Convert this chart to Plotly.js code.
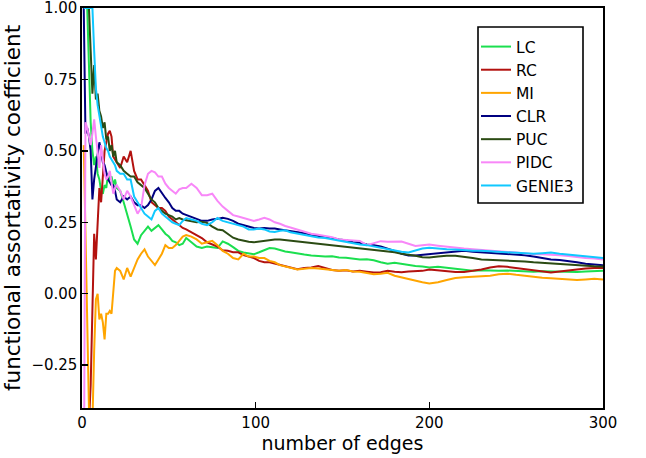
<!DOCTYPE html>
<html>
<head>
<meta charset="utf-8">
<script src="https://cdn.plot.ly/plotly-3.0.1.min.js"></script>
<style>html,body{margin:0;padding:0;background:#fff;}#chart{width:646px;height:458px;}</style>
</head>
<body>
<div id="chart"></div>
<script>
// number of edges (sample positions)
var edges = [1,2,3,4,5,6,7,8,9,10,11,12,13,14,15,16,17,18,19,20,
  22,24,26,28,30,32,34,36,38,40,42,44,46,48,50,52,54,56,58,60,
  63,66,69,72,75,78,81,84,87,90,93,96,99,102,105,108,111,114,117,120,
  124,128,132,136,140,144,148,152,156,160,164,168,172,176,180,184,188,192,196,200,
  205,210,215,220,225,230,235,240,245,250,255,260,265,270,275,280,285,290,295,300];

var seriesNames = ["LC","RC","MI","CLR","PUC","PIDC","GENIE3"];

var LC = [1.0,1.0,1.0,0.8,0.6,0.5,0.45,0.48,0.42,0.40,0.36,0.35,0.38,0.37,0.42,0.40,0.41,0.38,0.40,0.37,
  0.36,0.32,0.28,0.235,0.19,0.175,0.205,0.22,0.235,0.22,0.23,0.24,0.225,0.21,0.20,0.185,0.18,0.17,0.175,0.195,
  0.18,0.165,0.16,0.165,0.163,0.16,0.183,0.175,0.163,0.15,0.144,0.14,0.138,0.145,0.152,0.16,0.158,0.152,0.148,0.145,
  0.14,0.137,0.134,0.132,0.13,0.131,0.127,0.126,0.124,0.12,0.121,0.117,0.11,0.105,0.108,0.104,0.10,0.097,0.095,0.092,
  0.094,0.09,0.086,0.084,0.08,0.082,0.08,0.08,0.081,0.079,0.078,0.077,0.079,0.078,0.076,0.075,0.076,0.078,0.08,0.08];

var RC = [-1.0,-1.0,-0.7,-0.45,-0.32,0.0,0.21,0.12,0.27,0.37,0.32,0.42,0.50,0.53,0.56,0.57,0.55,0.48,0.47,0.46,
  0.44,0.48,0.46,0.50,0.43,0.40,0.40,0.38,0.36,0.32,0.31,0.30,0.30,0.29,0.27,0.26,0.25,0.24,0.23,0.225,
  0.215,0.205,0.195,0.18,0.172,0.165,0.152,0.15,0.145,0.145,0.135,0.13,0.125,0.115,0.11,0.11,0.105,0.10,0.097,0.092,
  0.086,0.09,0.092,0.097,0.09,0.083,0.08,0.082,0.078,0.08,0.077,0.074,0.075,0.08,0.077,0.075,0.078,0.08,0.08,0.085,
  0.082,0.08,0.076,0.076,0.08,0.085,0.092,0.096,0.094,0.09,0.086,0.082,0.076,0.074,0.078,0.082,0.086,0.088,0.09,0.09];

var MI = [0.52,0.2,-0.15,-0.4,-0.5,-0.45,-0.2,-0.02,0.0,-0.09,-0.07,-0.1,-0.16,-0.07,-0.07,-0.06,-0.07,0.02,0.08,0.09,
  0.08,0.05,0.09,0.06,0.09,0.12,0.14,0.155,0.13,0.115,0.10,0.12,0.14,0.17,0.16,0.16,0.17,0.185,0.20,0.205,
  0.20,0.19,0.175,0.18,0.185,0.17,0.15,0.14,0.125,0.12,0.14,0.13,0.13,0.125,0.125,0.115,0.11,0.10,0.095,0.09,
  0.085,0.087,0.09,0.088,0.085,0.082,0.08,0.083,0.078,0.077,0.073,0.068,0.07,0.073,0.063,0.057,0.052,0.045,0.04,0.036,
  0.04,0.048,0.055,0.058,0.06,0.062,0.063,0.068,0.07,0.066,0.062,0.058,0.056,0.054,0.052,0.05,0.048,0.05,0.052,0.05];

var CLR = [1.0,0.56,0.58,0.55,0.50,0.33,0.40,0.45,0.50,0.53,0.50,0.46,0.45,0.42,0.40,0.39,0.38,0.38,0.36,0.33,
  0.32,0.34,0.33,0.34,0.32,0.31,0.31,0.30,0.31,0.33,0.36,0.37,0.35,0.335,0.32,0.30,0.29,0.29,0.28,0.275,
  0.27,0.26,0.255,0.255,0.26,0.262,0.266,0.262,0.255,0.245,0.24,0.235,0.23,0.228,0.23,0.228,0.228,0.225,0.222,0.22,
  0.215,0.212,0.205,0.202,0.20,0.195,0.19,0.187,0.18,0.178,0.172,0.17,0.165,0.158,0.15,0.14,0.134,0.134,0.136,0.138,
  0.14,0.144,0.146,0.15,0.147,0.145,0.143,0.142,0.138,0.138,0.135,0.13,0.125,0.12,0.118,0.115,0.11,0.105,0.102,0.10];

var PUC = [1.0,1.0,1.0,1.0,0.85,0.70,0.80,0.68,0.70,0.64,0.62,0.58,0.60,0.54,0.55,0.50,0.52,0.48,0.50,0.46,
  0.45,0.43,0.42,0.41,0.41,0.39,0.38,0.37,0.35,0.33,0.32,0.30,0.29,0.28,0.275,0.27,0.26,0.265,0.26,0.258,
  0.255,0.25,0.252,0.248,0.235,0.225,0.222,0.21,0.196,0.19,0.185,0.182,0.18,0.183,0.186,0.187,0.19,0.19,0.188,0.185,
  0.183,0.18,0.178,0.175,0.173,0.17,0.167,0.165,0.162,0.16,0.157,0.154,0.15,0.148,0.145,0.14,0.137,0.133,0.128,0.127,
  0.13,0.133,0.133,0.13,0.125,0.12,0.119,0.117,0.116,0.115,0.113,0.11,0.108,0.105,0.103,0.10,0.10,0.098,0.096,0.095];

var PIDC = [-0.8,0.60,0.58,0.55,0.52,0.56,0.61,0.55,0.48,0.44,0.52,0.46,0.42,0.40,0.41,0.43,0.38,0.35,0.37,0.38,
  0.36,0.33,0.36,0.34,0.31,0.28,0.30,0.38,0.42,0.43,0.425,0.41,0.41,0.385,0.37,0.36,0.35,0.365,0.37,0.37,
  0.385,0.37,0.345,0.345,0.35,0.325,0.305,0.29,0.275,0.27,0.265,0.26,0.255,0.26,0.266,0.26,0.25,0.245,0.237,0.232,
  0.225,0.218,0.21,0.206,0.202,0.198,0.19,0.188,0.186,0.185,0.17,0.178,0.184,0.182,0.182,0.183,0.175,0.167,0.17,0.172,
  0.168,0.164,0.16,0.158,0.156,0.153,0.15,0.148,0.146,0.144,0.141,0.138,0.138,0.137,0.135,0.132,0.128,0.125,0.123,0.12];

var GENIE3 = [1.0,1.0,1.0,1.0,1.0,1.0,0.85,0.72,0.66,0.62,0.58,0.55,0.53,0.51,0.50,0.48,0.47,0.46,0.45,0.43,
  0.42,0.42,0.40,0.40,0.34,0.32,0.30,0.28,0.27,0.26,0.29,0.30,0.28,0.27,0.26,0.25,0.245,0.24,0.255,0.265,
  0.26,0.255,0.245,0.24,0.25,0.265,0.255,0.25,0.245,0.24,0.235,0.225,0.225,0.228,0.225,0.218,0.216,0.22,0.222,0.215,
  0.21,0.205,0.20,0.197,0.195,0.19,0.187,0.18,0.177,0.172,0.17,0.165,0.162,0.155,0.15,0.147,0.144,0.152,0.158,0.161,
  0.158,0.156,0.155,0.152,0.15,0.15,0.148,0.147,0.145,0.142,0.14,0.14,0.142,0.144,0.14,0.137,0.133,0.13,0.127,0.125];

var colors = ["#1bdf4f","#b3120f","#ffa500","#000080","#2b4b13","#f887f8","#10c8ff"];
var values = [LC, RC, MI, CLR, PUC, PIDC, GENIE3];

var FONT = "DejaVu Sans, Liberation Sans, sans-serif";

var traces = seriesNames.map(function(name, i){
  return {
    x: edges, y: values[i], name: name, type: "scatter", mode: "lines",
    line: {color: colors[i], width: 2}
  };
});

// plot area in px: left 82, right 603, top 8, bottom 408
var W = 646, H = 458, L = 82, R = 43, T = 8, B = 50;
var pw = W - L - R, ph = H - T - B;
function px2paperX(p){ return (p - L) / pw; }
function px2paperY(p){ return 1 - (p - T) / ph; }

var layout = {
  width: W, height: H,
  margin: {l: L, r: R, t: T, b: B, pad: 0},
  paper_bgcolor: "#fff", plot_bgcolor: "#fff",
  font: {family: FONT, color: "#000", size: 15},
  showlegend: true,
  legend: {
    x: px2paperX(476), y: px2paperY(30), xanchor: "left", yanchor: "top",
    bgcolor: "rgba(0,0,0,0)", borderwidth: 0,
    font: {family: FONT, size: 15.5, color: "#000"},
    itemwidth: 30, traceorder: "normal"
  },
  shapes: [{
    type: "rect", xref: "paper", yref: "paper",
    x0: px2paperX(478), x1: px2paperX(583), y0: px2paperY(203), y1: px2paperY(27),
    line: {color: "#000", width: 1.6}, fillcolor: "#fff", layer: "above"
  }],
  xaxis: {
    range: [0, 300], tickvals: [0, 100, 200, 300], ticktext: ["0","100","200","300"],
    showgrid: false, zeroline: false,
    showline: true, linecolor: "#000", linewidth: 1.6, mirror: true,
    ticks: "inside", ticklen: 6, tickwidth: 1.4, tickcolor: "#000",
    tickfont: {family: FONT, size: 15}, ticklabeloverflow: "allow",
    title: {text: "number of edges", font: {family: FONT, size: 19}, standoff: 6}
  },
  yaxis: {
    range: [-0.4, 1.0], tickvals: [-0.25, 0, 0.25, 0.5, 0.75, 1.0], tickformat: ".2f",
    showgrid: false, zeroline: false,
    showline: true, linecolor: "#000", linewidth: 1.6, mirror: true,
    ticks: "inside", ticklen: 6, tickwidth: 1.4, tickcolor: "#000",
    tickfont: {family: FONT, size: 15}, ticklabeloverflow: "allow",
    title: {text: "functional assortativity coefficient", font: {family: FONT, size: 21.5}, standoff: 14}
  }
};

Plotly.newPlot("chart", traces, layout, {displayModeBar: false, staticPlot: true});
</script>
</body>
</html>
